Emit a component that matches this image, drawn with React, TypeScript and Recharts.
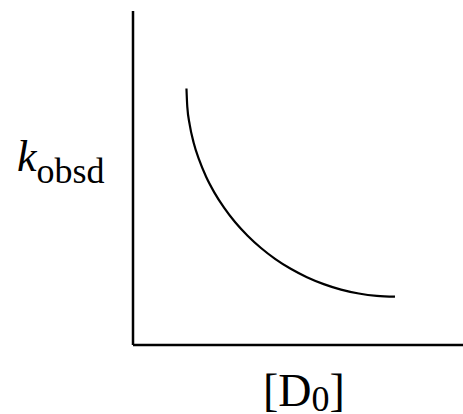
import React from 'react';
import { LineChart, Line, XAxis, YAxis } from 'recharts';

// [D0] along the x axis, k_obsd on the y axis (arbitrary units, 0-100)
const concentration = [16.2, 16.45, 17.18, 18.36, 20.03, 22.12, 24.67, 27.64, 30.97, 34.73, 38.79, 43.15, 47.79, 52.7, 57.79, 63.03, 68.42, 73.88, 79.39];
const kObsd = [76.8, 71.35, 65.99, 60.66, 55.48, 50.45, 45.63, 41.05, 36.74, 32.72, 29.04, 25.72, 22.81, 20.3, 18.23, 16.59, 15.42, 14.7, 14.46];

const data = concentration.map((x, i) => ({ x, k: kObsd[i] }));

const FONT = '"Liberation Serif", "Times New Roman", serif';

const YLabel = () => (
    <text x={17} y={171} fontFamily={FONT} fontSize={44} fill="#000">
        <tspan fontStyle="italic">k</tspan>
        <tspan fontSize={36} dy={12}>obsd</tspan>
    </text>
);

const XLabel = () => (
    <text x={263} y={406} fontFamily={FONT} fontSize={46} fill="#000">
        <tspan>[D</tspan>
        <tspan fontSize={36} dy={5}>0</tspan>
        <tspan dy={-5}>]</tspan>
    </text>
);

export default function App() {
    return (
        <div style={{ position: 'absolute', left: 0, top: 0 }}>
            <LineChart width={463} height={414} data={data} margin={{ top: 11, right: 0, bottom: 68, left: 132 }}>
                <XAxis
                    dataKey="x"
                    type="number"
                    domain={[0, 100]}
                    height={1}
                    tick={false}
                    tickLine={false}
                    axisLine={{ stroke: '#000', strokeWidth: 2.5 }}
                    label={<XLabel />}
                />
                <YAxis
                    type="number"
                    domain={[0, 100]}
                    width={1}
                    tick={false}
                    tickLine={false}
                    axisLine={{ stroke: '#000', strokeWidth: 2.5 }}
                    label={<YLabel />}
                />
                <Line
                    dataKey="k"
                    type="monotone"
                    stroke="#000"
                    strokeWidth={2.2}
                    dot={false}
                    isAnimationActive={false}
                />
            </LineChart>
        </div>
    );
}
